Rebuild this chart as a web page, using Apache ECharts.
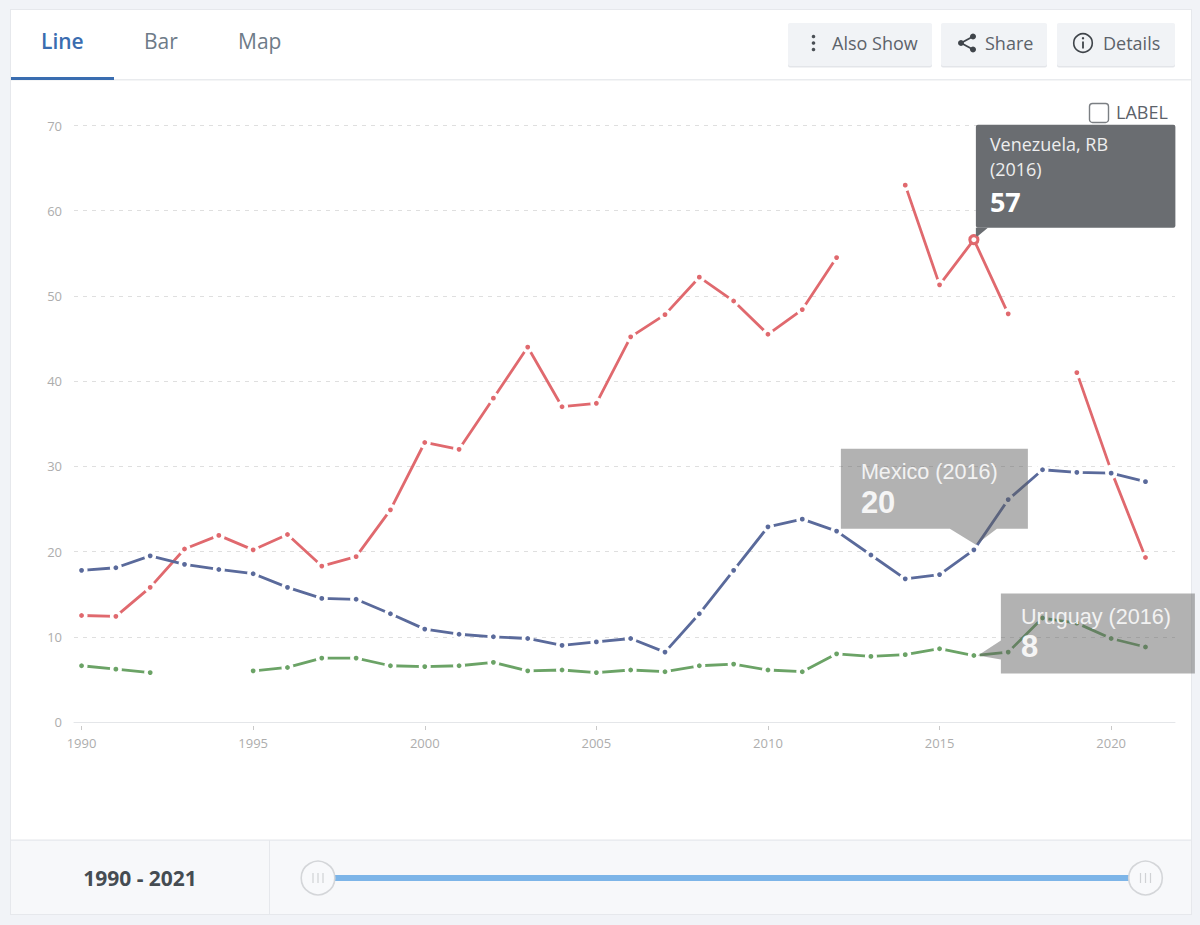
<!DOCTYPE html>
<html>
<head>
<meta charset="utf-8">
<style>html,body{margin:0;padding:0;background:#f1f3f7}#c{width:1200px;height:925px}</style>
<script src="https://cdn.jsdelivr.net/npm/echarts@6/dist/echarts.min.js"></script>
</head>
<body>
<div id="c"></div>
<script>
const years = [1990,1991,1992,1993,1994,1995,1996,1997,1998,1999,2000,2001,2002,2003,2004,2005,2006,2007,2008,2009,2010,2011,2012,2013,2014,2015,2016,2017,2018,2019,2020,2021];
const venezuela = [12.5,12.4,15.8,20.3,21.9,20.2,22,18.3,19.4,24.9,32.8,32,38,44,37,37.4,45.2,47.8,52.2,49.4,45.5,48.4,54.5,null,63,51.3,56.6,47.9,null,41,29.5,19.3];
const mexico = [17.8,18.1,19.5,18.5,17.9,17.4,15.8,14.5,14.4,12.7,10.9,10.3,10,9.8,9,9.4,9.8,8.2,12.7,17.8,22.9,23.8,22.4,19.6,16.8,17.3,20.2,26.1,29.6,29.3,29.2,28.2];
const uruguay = [6.6,6.2,5.8,null,null,6,6.4,7.5,7.5,6.6,6.5,6.6,7,6,6.1,5.8,6.1,5.9,6.6,6.8,6.1,5.9,8,7.7,7.9,8.6,7.8,8.2,12.2,11.6,9.8,8.8];
const xTicks = [1990,1995,2000,2005,2010,2015,2020];
const tabs = ['Line','Bar','Map'];
const focusYear = 2016;

const FONT = '"Open Sans", sans-serif';
const ARIAL = '"Liberation Sans", Arial, sans-serif';
const RED = '#e0696e', BLUE = '#5a6a9b', GREEN = '#6ba366';

const chart = echarts.init(document.getElementById('c'), null, {renderer:'svg', width:1200, height:925});

function pairs(arr, color, hollow){
  return years.map((y,i)=>{
    const d = {value:[y, arr[i]]};
    if (hollow && y===focusYear) {
      d.symbolSize = 9;
      d.itemStyle = {color:'#fff', borderColor:color, borderWidth:2.2};
    }
    return d;
  });
}
function lineSeries(name, arr, color, hollow){
  return {
    name, type:'line', data:pairs(arr,color,hollow), connectNulls:false,
    showAllSymbol:true, symbol:'circle', symbolSize:8.4, silent:true, animation:false,
    lineStyle:{color, width:2.8},
    itemStyle:{color, borderColor:'#fff', borderWidth:3.6}
  };
}
const xBase = {type:'value', min:1989.78, max:2021.86, gridIndex:0, splitLine:{show:false}};
chart.setOption({
  animation:false,
  backgroundColor:'#f1f3f7',
  grid:{left:74, right:25, top:125.5, bottom:203},
  xAxis:[
    Object.assign({}, xBase, {
      axisLine:{show:true,onZero:false,lineStyle:{color:'#e4e6e9',width:1}},
      axisTick:{show:false}, axisLabel:{show:false}
    }),
    Object.assign({}, xBase, {
      position:'bottom', offset:4,
      axisLine:{show:false,onZero:false},
      axisTick:{show:true,length:4,customValues:xTicks,lineStyle:{color:'#c9c9c9'}},
      axisLabel:{show:true,customValues:xTicks,formatter:v=>String(v),color:'#adadad',fontFamily:FONT,fontSize:13,margin:10,hideOverlap:false,showMinLabel:true,showMaxLabel:true}
    })
  ],
  yAxis:{type:'value',min:0,max:70,interval:10,
    axisLine:{show:false},axisTick:{show:false},
    axisLabel:{color:'#adadad',fontFamily:FONT,fontSize:13,margin:12},
    splitLine:{show:true,lineStyle:{color:'#dfdfdf',type:[4,5],width:1}}
  },
  series:[
    lineSeries('Venezuela, RB',venezuela,RED,true),
    lineSeries('Uruguay',uruguay,GREEN,false),
    lineSeries('Mexico',mexico,BLUE,false)
  ]
});

const at = (arr) => chart.convertToPixel({xAxisIndex:0,yAxisIndex:0},[focusYear,arr[years.indexOf(focusYear)]]);
const focusVal = (arr) => String(Math.round(arr[years.indexOf(focusYear)]));

function rect(x,y,w,h,fill,z,extra){return Object.assign({type:'rect',shape:{x,y,width:w,height:h,r:(extra&&extra.r)||0},style:Object.assign({fill},(extra&&extra.style)||{}),z,silent:true});}
function txt(x,y,t,size,color,z,opt){opt=opt||{};return {type:'text',x,y,z,silent:true,style:{text:t,fontFamily:opt.font||FONT,fontSize:size,fontWeight:opt.weight||'normal',fill:color,textAlign:opt.align||'left',textVerticalAlign:'middle',textBaseline:'middle'}};}
function poly(points,fill,z){return {type:'polygon',shape:{points},style:{fill},z,silent:true};}
function circ(cx,cy,r,style,z){return {type:'circle',shape:{cx,cy,r},style,z,silent:true};}
function seg(x1,y1,x2,y2,stroke,w,z){return {type:'line',shape:{x1,y1,x2,y2},style:{stroke,lineWidth:w},z,silent:true};}

const Z0=-10, Z1=-9, Zt=100;
const els = [];
// card
els.push(rect(10,9,1182,906,'#e6e8ec',Z0));
els.push(rect(11,10,1180,904,'#ffffff',Z0+0.1));
// tabs
const tabX=[41,144,238];
tabs.forEach((t,i)=>els.push(txt(tabX[i],41,t,21,i===0?'#3a6db0':'#6e7b88',5,{weight:i===0?600:'normal'})));
els.push(rect(11,79,1180,1.4,'#e9ebee',Z1));
els.push(rect(11,77,103,3,'#3a6db0',Z1+0.5));
// buttons
[[788,144],[941,106],[1057,118]].forEach(b=>{
  els.push(rect(b[0],24,b[1],43.5,'#e3e5e9',Z1,{r:2}));
  els.push(rect(b[0],23,b[1],43,'#f1f3f6',Z1+0.2,{r:2}));
});
[36.5,43,49.5].forEach(y=>els.push(circ(813.5,y,1.8,{fill:'#4a4f55'},5)));
els.push(txt(832,43,'Also Show',18,'#5c626a',5));
els.push(seg(961,43,973,36.5,'#3f444a',1.8,5));
els.push(seg(961,43,973,49.5,'#3f444a',1.8,5));
[[961,43],[973,36.5],[973,49.5]].forEach(p=>els.push(circ(p[0],p[1],3,{fill:'#3f444a'},5)));
els.push(txt(985,43,'Share',18,'#5c626a',5));
els.push(circ(1083,43,9.3,{fill:'none',stroke:'#3f444a',lineWidth:1.6},5));
els.push(circ(1083,38.3,1.2,{fill:'#3f444a'},5));
els.push(seg(1083,41.5,1083,48.5,'#3f444a',1.8,5));
els.push(txt(1103,43,'Details',18,'#5c626a',5));
// label checkbox
els.push(Object.assign(rect(1089.5,103.5,19,19,'#fff',5,{r:3,style:{stroke:'#7b7f83',lineWidth:1.4}})));
els.push(txt(1116,112,'LABEL',18,'#5c626a',5));
// footer
els.push(rect(11,840,1180,74,'#f7f8fa',Z1));
els.push(rect(11,839.5,1180,1.3,'#e6e8ec',Z1+0.5));
els.push(rect(269,840,1,74,'#e6e8ec',Z1+0.5));
els.push(txt(140,877.5,years[0]+' - '+years[years.length-1],21,'#454c52',5,{weight:700,align:'center'}));
// slider
els.push(rect(335,875,795,6,'#7db5e8',5));
[318,1145.5].forEach(cx=>{
  els.push(circ(cx,878,16.8,{fill:'#f8f9fb',stroke:'#d4d6d9',lineWidth:1.6},6));
  [-5,0,5].forEach(d=>els.push(seg(cx+d,873,cx+d,883,'#d0d2d5',1.2,7)));
});
// tooltips anchored on the data points
const pV=at(venezuela), pM=at(mexico), pU=at(uruguay);
const dark='#6a6d71';
const bx=pV[0]+2, by=pV[1]-115;
els.push(Object.assign(rect(bx,by,199.5,103,dark,Zt,{r:2})));
els.push(poly([[bx,by+103],[bx+12,by+103],[pV[0]+2,pV[1]-2],[bx,pV[1]-6]],dark,Zt));
els.push(circ(pV[0],pV[1],3.6,{fill:'#fff',stroke:RED,lineWidth:2.2},Zt+1));
els.push(txt(bx+14,144,'Venezuela, RB',18,'#eeeeee',Zt+1));
els.push(txt(bx+14,169,'('+focusYear+')',18,'#eeeeee',Zt+1));
els.push(txt(bx+14,201,focusVal(venezuela),27,'#ffffff',Zt+1,{weight:700}));

const grey='rgba(95,95,95,0.48)';
const mx=pM[0]-133, my=pM[1]-101;
els.push({type:'polygon',shape:{points:[[mx,my],[mx+187,my],[mx+187,my+80],[mx+156,my+80],[pM[0]+2,pM[1]-5],[mx+109,my+80],[mx,my+80]]},style:{fill:grey},z:Zt,silent:true});
els.push(txt(mx+20,my+23,'Mexico ('+focusYear+')',21.6,'#f2f2f2',Zt+1,{font:ARIAL}));
els.push(txt(mx+20,my+54,focusVal(mexico),31,'#f5f5f5',Zt+1,{weight:700,font:ARIAL}));

const ux=pU[0]+27, uy=pU[1]-62;
els.push({type:'polygon',shape:{points:[[ux,uy],[ux+194,uy],[ux+194,uy+80],[ux,uy+80],[ux,uy+66],[pU[0]+4,pU[1]],[ux,uy+47]]},style:{fill:grey},z:Zt,silent:true});
els.push(txt(ux+20,uy+23,'Uruguay ('+focusYear+')',21.6,'#f2f2f2',Zt+1,{font:ARIAL}));
els.push(txt(ux+20,uy+53,focusVal(uruguay),31,'#f5f5f5',Zt+1,{weight:700,font:ARIAL}));

chart.setOption({graphic:{elements:els}});
</script>
</body>
</html>
